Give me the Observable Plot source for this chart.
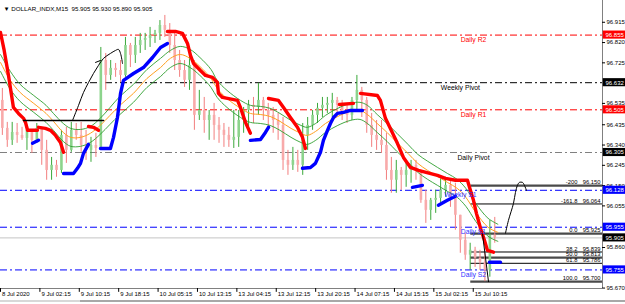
<!DOCTYPE html>
<html><head><meta charset="utf-8">
<script src="https://cdn.jsdelivr.net/npm/d3@7"></script>
<script src="https://cdn.jsdelivr.net/npm/@observablehq/plot@0.6"></script>
<style>
html,body{margin:0;padding:0;background:#fff;width:625px;height:304px;overflow:hidden;position:relative}
#chart svg{display:block}
#chrome1{position:absolute;left:0;top:300px;width:625px;height:2px;background:#d8d8d8}
#chrome2{position:absolute;left:80px;top:300px;width:545px;height:2px;background:#a8a8a8}
</style></head><body><div id="chart"></div><div id="chrome1"></div><div id="chrome2"></div>
<script>
// ---- data (hourly candles, 4 x M15 bars each) ----
const firstOpen = 96.549;
const candleClose = [96.418,96.362,96.399,96.385,96.371,96.409,96.362,96.418,96.315,96.221,
96.245,96.221,96.385,96.315,96.409,96.385,96.338,96.315,96.338,96.324,
96.736,96.666,96.699,96.689,96.666,96.806,96.760,96.806,96.830,96.839,
96.853,96.863,96.900,96.877,96.806,96.736,96.689,96.643,96.713,96.479,
96.502,96.455,96.479,96.432,96.409,96.385,96.362,96.376,96.455,96.502,
96.526,96.516,96.549,96.502,96.479,96.455,96.432,96.268,96.245,96.268,
96.245,96.385,96.432,96.479,96.512,96.526,96.535,96.549,96.526,96.502,
96.479,96.549,96.596,96.549,96.432,96.385,96.362,96.338,96.221,96.175,
96.221,96.198,96.221,96.245,96.221,96.081,96.034,96.081,96.090,96.128,
96.151,96.104,96.011,95.894,95.824,95.847,95.810,95.791,95.753,95.917,95.905];
const candleHigh = [96.605,96.446,96.446,96.441,96.423,96.432,96.409,96.441,96.423,96.362,
96.282,96.268,96.409,96.423,96.446,96.441,96.446,96.409,96.376,96.395,
96.797,96.769,96.736,96.722,96.736,96.844,96.816,96.844,96.863,96.863,
96.891,96.877,96.923,96.947,96.909,96.863,96.783,96.736,96.792,96.736,
96.596,96.563,96.502,96.535,96.469,96.441,96.423,96.502,96.502,96.516,
96.549,96.563,96.629,96.563,96.535,96.516,96.488,96.469,96.315,96.329,
96.315,96.441,96.469,96.502,96.535,96.563,96.563,96.582,96.563,96.549,
96.535,96.563,96.666,96.610,96.563,96.488,96.455,96.455,96.395,96.282,
96.268,96.235,96.268,96.268,96.268,96.221,96.128,96.090,96.128,96.189,
96.189,96.175,96.161,96.011,95.927,95.880,95.861,95.847,95.833,95.987,96.001];
const candleLow = [96.385,96.329,96.338,96.348,96.362,96.315,96.301,96.348,96.245,96.175,
96.175,96.189,96.207,96.254,96.306,96.362,96.306,96.268,96.259,96.282,
96.315,96.596,96.643,96.657,96.633,96.657,96.703,96.722,96.769,96.783,
96.797,96.816,96.830,96.844,96.769,96.689,96.657,96.610,96.596,96.409,
96.455,96.395,96.362,96.362,96.348,96.329,96.329,96.324,96.329,96.395,
96.423,96.441,96.479,96.455,96.409,96.395,96.362,96.221,96.198,96.221,
96.212,96.198,96.315,96.409,96.441,96.469,96.488,96.469,96.488,96.455,
96.441,96.455,96.502,96.469,96.395,96.329,96.315,96.301,96.175,96.114,
96.114,96.128,96.142,96.161,96.175,96.067,95.973,95.987,96.020,96.067,
96.095,96.048,95.941,95.833,95.800,95.753,95.767,95.753,95.700,95.721,95.880];

// moving-average band (bar index, price)
const maBars = [0,8,16,27,37,43,51,57,65,73,81,89,97,108,119,130,138,146,154,162,171,176,184,195,203,211,219,227,236,244,249,256,264,274,284,292,298,306,314,322,331,339,347,355,363,371,378,386,396,404];
const maMid = [96.727,96.643,96.586,96.535,96.488,96.451,96.399,96.376,96.376,96.395,96.432,96.479,96.526,96.582,96.652,96.703,96.746,96.764,96.746,96.708,96.652,96.605,96.558,96.512,96.488,96.483,96.474,96.451,96.418,96.395,96.385,96.404,96.441,96.474,96.498,96.502,96.483,96.441,96.399,96.352,96.301,96.254,96.221,96.193,96.165,96.137,96.095,96.025,95.955,95.931];
const maUpper = [96.764,96.685,96.624,96.572,96.526,96.488,96.441,96.418,96.413,96.427,96.465,96.516,96.568,96.624,96.694,96.746,96.783,96.802,96.788,96.750,96.694,96.643,96.596,96.549,96.526,96.521,96.512,96.488,96.455,96.432,96.423,96.441,96.479,96.512,96.535,96.540,96.526,96.483,96.441,96.395,96.343,96.296,96.264,96.235,96.207,96.179,96.137,96.067,95.997,95.969];
const maLower = [96.685,96.601,96.544,96.493,96.446,96.409,96.357,96.334,96.334,96.352,96.390,96.437,96.483,96.540,96.610,96.661,96.703,96.722,96.703,96.666,96.610,96.563,96.516,96.469,96.446,96.441,96.432,96.409,96.376,96.352,96.343,96.362,96.399,96.432,96.455,96.460,96.441,96.399,96.357,96.310,96.259,96.212,96.179,96.151,96.123,96.095,96.053,95.983,95.913,95.889];

// trend-stop segments [bar, price]
const redStops = [
 [[0,96.867],[3,96.783],[6.5,96.666],[9,96.572],[10.5,96.516],[14.6,96.488],[18.7,96.465],[20.3,96.446],[22,96.409],[30,96.409]],
 [[30.9,96.423],[36.5,96.418],[40.6,96.409],[44.7,96.385],[48.7,96.352],[51.2,96.306]],
 [[71.5,96.427],[75.5,96.423],[79.6,96.409]],
 [[135.6,96.872],[142.1,96.872],[147.8,96.863],[151.9,96.816],[154.3,96.760],[156.8,96.722],[162.4,96.689],[166.5,96.666],[172.2,96.657],[176.2,96.633],[177,96.582],[180.3,96.563],[192.5,96.549],[194.9,96.516],[199,96.446],[203,96.395]],
 [[217.7,96.558],[225.8,96.549],[229.9,96.516],[235.5,96.469],[241.2,96.423],[245.3,96.376],[247.7,96.324]],
 [[275.3,96.530],[286.7,96.535]],
 [[292.4,96.582],[306.2,96.572],[308.6,96.549],[312.7,96.465],[316.7,96.418],[322.4,96.348],[327.3,96.282],[333,96.235],[339.5,96.221],[354.9,96.198],[361.4,96.184],[369.5,96.175],[379.3,96.175],[381.7,96.128],[384.2,96.081],[386.6,96.020],[389.9,95.950],[393.1,95.894],[395.5,95.847],[400.4,95.838]]
];
const blueStops = [
 [[26,96.348],[30.9,96.362]],
 [[51.2,96.207],[59.3,96.207],[62.5,96.231],[65,96.254],[67.4,96.301],[71.5,96.343]],
 [[81.2,96.324],[89.3,96.324],[91.8,96.376],[95,96.469],[97.5,96.582],[99.9,96.643],[108,96.675],[116.1,96.703],[123.5,96.750],[130,96.797],[135.6,96.816]],
 [[203,96.362],[211.2,96.366],[215.2,96.399],[217.7,96.423]],
 [[245.3,96.231],[251.8,96.235],[255.8,96.254],[259.9,96.306],[262.3,96.362],[265.6,96.409],[268,96.441],[270.5,96.469],[273.7,96.488],[278.6,96.493],[284.3,96.502],[294,96.502]],
 [[334.6,96.142],[342.7,96.151]],
 [[355.7,96.058],[363,96.081],[369.5,96.100]],
 [[397.2,95.791],[406.1,95.791]]
];
// hand-drawn objects [bar, price]
const drawnLevel = [[18.7,96.455],[83.7,96.455]];
const drawnCurves = [
 [[58.5,96.455],[63.4,96.526],[67.4,96.586],[71.5,96.633],[75.5,96.675],[79.6,96.713],[83.7,96.746],[89.3,96.769],[93.4,96.783],[95.8,96.788],[97.5,96.769],[99.1,96.722]],
 [[77.2,96.727],[81.2,96.736]],
 [[410.2,95.927],[412.6,95.987],[416.7,96.067],[418.3,96.118],[419.9,96.151],[421.5,96.165],[424,96.165],[425.6,96.151],[427.2,96.128]],
 [[391.5,95.925],[396.4,95.700]]
];

// pivot levels
const pivotNames = ["Daily R2","Weekly Pivot","Daily R1","Daily Pivot","Weekly S1","Daily S1","Daily S2"];
const pivotValues = [96.855,96.632,96.505,96.305,96.128,95.955,95.755];
const pivotLineColors = ["#ff0000","#000000","#ff0000","#808080","#0000ff","#0000ff","#0000ff"];
const pivotTextColors = ["#ff0000","#000000","#ff0000","#000000","#3333ff","#3333ff","#3333ff"];
const pivotBoxColors = ["#ff0000","#000000","#ff0000","#000000","#0000ff","#0000ff","#0000ff"];
const currentPrice = 95.905;

// fibonacci
const fibNames = ["-200","-161.8","0.0","38.2","50.0","61.8","100.0"];
const fibValues = [96.150,96.064,95.925,95.839,95.813,95.786,95.700];
const fibThick = [true,false,true,false,true,false,true];

// axes
const yTicks = [96.915,96.820,96.725,96.535,96.435,96.340,96.245,96.150,96.055,95.860,95.670];
const timeLabels = ["8 Jul 2020","9 Jul 02:15","9 Jul 10:15","9 Jul 18:15","10 Jul 05:15","10 Jul 13:15","13 Jul 04:15","13 Jul 12:15","13 Jul 20:15","14 Jul 07:15","14 Jul 15:15","15 Jul 02:15","15 Jul 10:15"];
const title = "\u25BC DOLLAR_INDX,M15  95.905 95.930 95.890 95.905";

// ---- build tables ----
const xEnd = 489, yMin = 95.668, yMax = 97.017;
const candles = candleClose.map((c, k) => ({
  bar: 4 * k + 1.5,
  open: k === 0 ? firstOpen : candleClose[k - 1],
  close: c, high: candleHigh[k], low: candleLow[k]
}));
const isBull = d => d.close >= d.open;
const ma = maBars.map((b, i) => ({b, mid: maMid[i], up: maUpper[i], lo: maLower[i]}));
const toPts = segs => segs.flatMap((s, i) => s.map(([b, p]) => ({seg: i, b, p})));
const pivots = pivotNames.map((n, i) => ({name: n, value: pivotValues[i], line: pivotLineColors[i], txt: pivotTextColors[i], box: pivotBoxColors[i], weekly: n.startsWith("Weekly")}));
const boxes = pivots.map(p => ({value: p.value, color: p.box})).concat([{value: currentPrice, color: "#000000"}]);
const fibs = fibNames.map((n, i) => ({name: n, value: fibValues[i], thick: fibThick[i]}));
const timeBars = timeLabels.map((_, i) => i * 32);

const font = "'Liberation Sans', Arial, sans-serif";
const plot = Plot.plot({
  width: 625, height: 304,
  marginTop: 0, marginRight: 23, marginBottom: 16, marginLeft: 0,
  x: {domain: [0, xEnd], axis: null},
  y: {domain: [yMin, yMax], axis: null},
  color: {type: "identity"},
  style: {fontFamily: font, fontSize: "6px", background: "#fff", overflow: "visible"},
  marks: [
    Plot.ruleY(pivots, {y: "value", stroke: "line", strokeDasharray: "7,3,2,3", strokeWidth: 1}),
    Plot.ruleY([currentPrice], {stroke: "#c4c4c4", strokeWidth: 1}),
    Plot.ruleY(fibs, {y: "value", x1: 382, x2: xEnd, stroke: d => d.thick ? "#4a4a4a" : "#000000", strokeWidth: d => d.thick ? 2.2 : 1}),
    Plot.ruleX(candles, {x: "bar", y1: "low", y2: "high", stroke: d => isBull(d) ? "#3aa83a" : "#f27e7e", strokeWidth: 1}),
    Plot.ruleX(candles, {x: "bar", y1: "open", y2: "close", stroke: d => isBull(d) ? "#8cd48c" : "#f8aaaa", strokeWidth: 2.6}),
    Plot.line(ma, {x: "b", y: "up", stroke: "#2e9e2e", strokeWidth: 0.9, curve: "catmull-rom"}),
    Plot.line(ma, {x: "b", y: "lo", stroke: "#2e9e2e", strokeWidth: 0.9, curve: "catmull-rom"}),
    Plot.line(ma, {x: "b", y: "mid", stroke: "#ffa020", strokeWidth: 1, curve: "catmull-rom"}),
    Plot.line(toPts(redStops), {x: "b", y: "p", z: "seg", stroke: "#ff0000", strokeWidth: 3.4, strokeLinecap: "round", strokeLinejoin: "round"}),
    Plot.line(toPts(blueStops), {x: "b", y: "p", z: "seg", stroke: "#0000ff", strokeWidth: 3.4, strokeLinecap: "round", strokeLinejoin: "round"}),
    Plot.line(drawnLevel, {x: d => d[0], y: d => d[1], stroke: "#000", strokeWidth: 1.6}),
    Plot.line(toPts(drawnCurves), {x: "b", y: "p", z: "seg", stroke: "#000", strokeWidth: 1, curve: "catmull-rom"}),
    // pivot labels
    Plot.text(pivots, {x: d => d.weekly ? 373.6 : 384.2, y: "value", text: "name", fill: "txt", dy: 5, fontSize: 6.8}),
    // fib labels
    Plot.text(fibs, {x: 468.6, y: "value", text: "name", textAnchor: "end", dy: -3.2, fontSize: 5.8}),
    Plot.text(fibs, {x: 487.3, y: "value", text: d => d.value.toFixed(3), textAnchor: "end", dy: -3.2, fontSize: 5.8}),
    // frame lines
    Plot.ruleY([yMin], {stroke: "#808080"}),
    Plot.ruleX([xEnd], {stroke: "#808080"}),
    // right price axis
    Plot.ruleY(yTicks, {y: d => d, x1: xEnd, x2: xEnd + 2.5, stroke: "#000"}),
    Plot.text(yTicks, {y: d => d, text: d => d.toFixed(3), frameAnchor: "right", dx: 4, textAnchor: "start", fill: "#000", fontSize: 6}),
    Plot.rect(boxes, {x1: xEnd + 0.6, x2: xEnd + 20, y1: d => d.value - 0.019, y2: d => d.value + 0.019, fill: "color"}),
    Plot.text(boxes, {y: "value", text: d => d.value.toFixed(3), frameAnchor: "right", dx: 3, textAnchor: "start", fill: "#fff", fontSize: 6}),
    // time axis
    Plot.ruleX(timeBars, {x: d => d, y1: yMin, y2: yMin - 0.018, stroke: "#000"}),
    Plot.text(timeBars, {x: d => d, text: (d, i) => timeLabels[i], frameAnchor: "bottom", dy: 7, dx: 1.5, textAnchor: "start", fill: "#000", fontSize: 6}),
    // title
    Plot.text([title], {text: d => d, frameAnchor: "top-left", dx: 3, dy: 6, textAnchor: "start", fill: "#000", fontSize: 6.2})
  ]
});
document.getElementById("chart").appendChild(plot);
</script>
</body></html>
